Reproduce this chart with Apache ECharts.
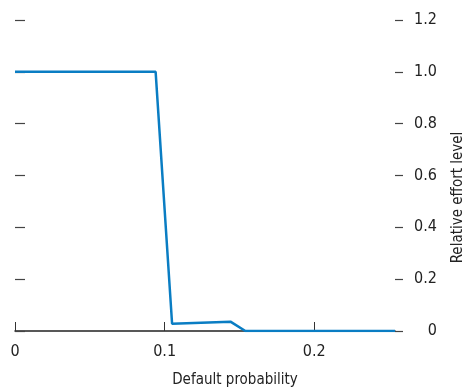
<!DOCTYPE html>
<html>
<head>
<meta charset="utf-8">
<script src="https://cdn.jsdelivr.net/npm/echarts@6/dist/echarts.min.js"></script>
<style>
html,body{margin:0;padding:0;background:#fff;}
#chart{width:467px;height:388px;}
</style>
</head>
<body>
<div id="chart"></div>
<script>
var probability = [0, 0.094, 0.105, 0.144, 0.154, 0.254];
var effort = [1.0, 1.0, 0.028, 0.036, 0, 0];
var xTicks = [0, 0.1, 0.2];
var yTicks = [0, 0.2, 0.4, 0.6, 0.8, 1.0, 1.2];

var font = '"DejaVu Sans Condensed", "Roboto", sans-serif';
var chart = echarts.init(document.getElementById('chart'));
var points = probability.map(function (p, i) { return [p, effort[i]]; });

var option = {
    animation: false,
    grid: { left: 15, right: 72, top: 20, bottom: 57, containLabel: false, outerBoundsMode: 'none' },
    xAxis: {
        type: 'value',
        min: 0,
        max: 0.254,
        interval: 0.1,
        name: 'Default probability',
        nameLocation: 'middle',
        nameGap: 42,
        nameTextStyle: { fontFamily: font, fontSize: 15, color: '#222', padding: [0, 0, 0, 60] },
        axisLine: { show: true, onZero: false, lineStyle: { color: '#222', width: 1.5 } },
        axisTick: { show: true, inside: true, length: 9, lineStyle: { color: '#333' } },
        axisLabel: {
            margin: 13, fontFamily: font, fontSize: 16, color: '#222',
            showMaxLabel: false,
            formatter: function (v) { return xTicks.indexOf(Math.round(v * 10) / 10) >= 0 ? String(Math.round(v * 10) / 10) : ''; }
        },
        splitLine: { show: false }
    },
    yAxis: [{
        type: 'value',
        position: 'right',
        min: 0,
        max: 1.2,
        interval: 0.2,
        name: 'Relative effort level',
        nameLocation: 'middle',
        nameGap: 56,
        nameRotate: 90,
        nameTextStyle: { fontFamily: font, fontSize: 15, color: '#222', padding: [0, 44, 0, 0] },
        axisLine: { show: true, onZero: false, lineStyle: { color: 'rgba(0,0,0,0)' } },
        axisTick: { show: true, inside: false, length: 8, lineStyle: { color: '#444', width: 1.2 } },
        axisLabel: {
            margin: 42, align: 'right', fontFamily: font, fontSize: 16, color: '#222',
            formatter: function (v) { return v === 0 ? '0' : v.toFixed(1); }
        },
        splitLine: { show: false }
    }, {
        type: 'value',
        position: 'left',
        min: 0,
        max: 1.2,
        interval: 0.2,
        axisLine: { show: true, onZero: false, lineStyle: { color: 'rgba(0,0,0,0)' } },
        axisTick: { show: true, inside: true, length: 10, lineStyle: { color: '#444', width: 1.2 } },
        axisLabel: { show: false },
        splitLine: { show: false }
    }],
    series: [{
        type: 'line',
        data: points,
        yAxisIndex: 0,
        symbol: 'none',
        lineStyle: { color: '#0a7dc3', width: 2.5 }
    }]
};
chart.setOption(option);
</script>
</body>
</html>
